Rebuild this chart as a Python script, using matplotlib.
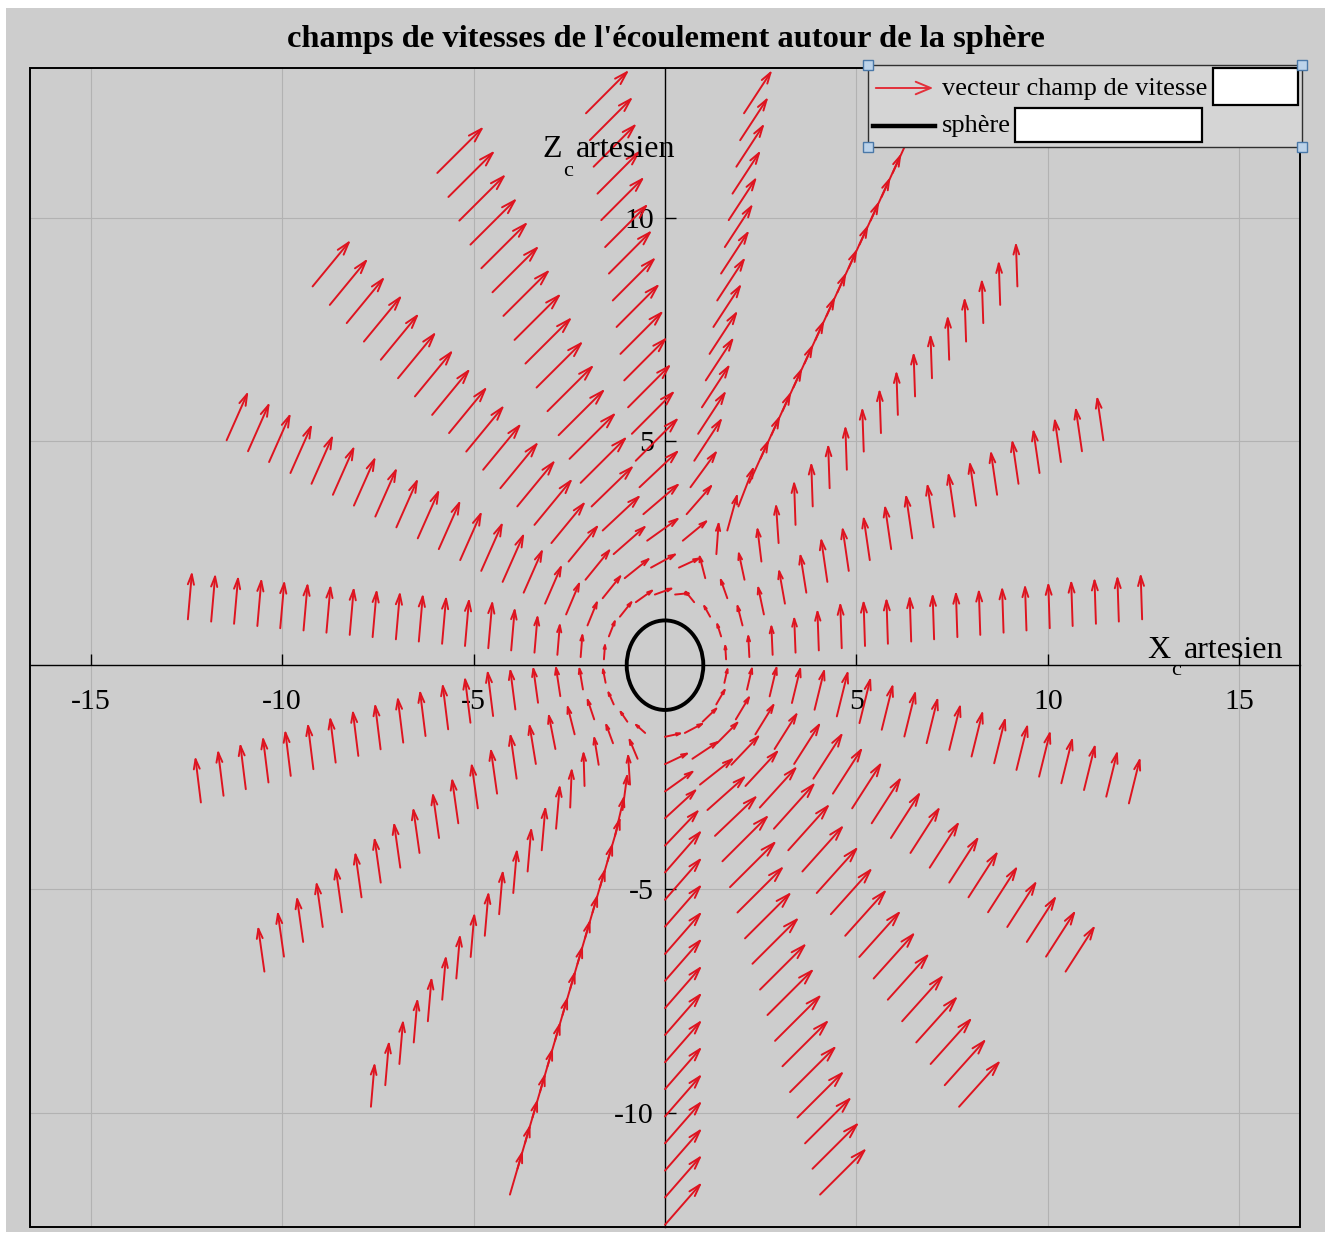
import numpy as np
import matplotlib
matplotlib.use("Agg")
import matplotlib.pyplot as plt
from matplotlib.patches import Ellipse, Rectangle, FancyArrowPatch
from matplotlib.lines import Line2D

plt.rcParams['font.family'] = ['Liberation Serif', 'DejaVu Serif']

# ---------------- data ----------------
# directions (deg, counter-clockwise from +X) of the sampling rays
ray_angles_deg = [270.0, 288.9, 307.9, 326.8, 345.7, 4.7, 23.7, 42.6, 61.6,
                  80.5, 99.5, 118.4, 137.4, 156.3, 175.3, 194.2, 213.2,
                  232.1, 251.1]
# radial positions of the sampling rings
ring_radii = [1.6, 2.21, 2.82, 3.42, 4.03, 4.63, 5.24, 5.84, 6.45, 7.05,
              7.66, 8.26, 8.87, 9.47, 10.08, 10.68, 11.29, 11.89, 12.5]
# velocity components away from the sphere, one pair per ray
far_vx = [0.97, 1.22, 1.09, 0.78, 0.30, -0.04, -0.17, -0.04, 0.52,
          0.74, 1.13, 1.22, 1.00, 0.57, 0.11, -0.15, -0.17, 0.10, 0.34]
far_vz = [0.95, 1.04, 1.04, 1.04, 1.04, 1.04, 1.00, 1.00, 0.98,
          0.97, 0.97, 1.04, 1.04, 1.10, 1.08, 1.04, 1.03, 1.00, 1.00]
# close to the sphere: lean of the arrows along its outline, and their length
ring_turn = [0.75, 0.50, 0.30, 0.15, 0.06]
ring_len = [0.36, 0.52, 0.68, 0.80, 0.90]

sphere_radius = 1.0
x_ticks = [-15, -10, -5, 5, 10, 15]
z_ticks = [-10, -5, 5, 10]
x_limits = (-16.58, 16.58)
z_limits = (-12.55, 13.34)

title_text = "champs de vitesses de l'écoulement autour de la sphère"
legend_labels = ["vecteur champ de vitesse", "sphère"]

# ---------------- figure ----------------
W, H, DPI = 1331, 1234, 100
BG = '#CDCDCD'
RED = '#DE1420'

fig = plt.figure(figsize=(W / DPI, H / DPI), dpi=DPI, facecolor='white')


def fx(px):
    return px / W


def fy(py):
    return 1 - py / H


# grey window area
fig.patches.append(Rectangle((fx(6), fy(1232)), fx(1325) - fx(6), fy(8) - fy(1232),
                             transform=fig.transFigure, facecolor=BG,
                             edgecolor='none', zorder=-10))

ax = fig.add_axes([fx(30), fy(1227), fx(1300) - fx(30), fy(68) - fy(1227)])
ax.set_zorder(1)
ax.set_facecolor(BG)
ax.set_xlim(*x_limits)
ax.set_ylim(*z_limits)

# axes crossing at the origin
for side in ('top', 'right'):
    ax.spines[side].set_visible(False)
ax.spines['left'].set_position(('data', 0))
ax.spines['bottom'].set_position(('data', 0))
for side in ('left', 'bottom'):
    ax.spines[side].set_linewidth(1.0)
    ax.spines[side].set_zorder(1.5)
ax.add_patch(Rectangle((0, 0), 1, 1, transform=ax.transAxes, fill=False,
                       edgecolor='black', linewidth=1.4, clip_on=False, zorder=5))

ax.set_xticks(x_ticks)
ax.set_yticks(z_ticks)
ax.set_xticklabels([f"{t:d}" for t in x_ticks])
ax.set_yticklabels([f"{t:d}" for t in z_ticks])
ax.tick_params(axis='x', direction='in', length=8, width=1.0, labelsize=21.5, pad=17)
ax.tick_params(axis='y', direction='in', length=8, width=1.0, labelsize=21.5, pad=8)
ax.grid(True, color='#B2B2B2', linewidth=0.8)
ax.set_axisbelow(True)

# velocity vectors
for j, phi_deg in enumerate(ray_angles_deg):
    phi = np.deg2rad(phi_deg)
    far = np.array([far_vx[j], far_vz[j]])
    speed = np.hypot(*far)
    d = far / speed
    tangent = np.array([-np.sin(phi), np.cos(phi)])
    if tangent @ d < 0:
        tangent = -tangent
    for i, r in enumerate(ring_radii):
        w = ring_turn[i] if i < len(ring_turn) else 0.0
        s = ring_len[i] if i < len(ring_len) else 1.0
        direction = (1 - w) * d + w * tangent
        direction /= np.hypot(*direction)
        vx, vz = direction * speed * s
        x0, z0 = r * np.cos(phi), r * np.sin(phi)
        # head proportional to the arrow length on screen
        p0 = ax.transData.transform((x0, z0))
        p1 = ax.transData.transform((x0 + vx, z0 + vz))
        length_pt = np.hypot(*(p1 - p0)) * 72 / DPI
        ax.annotate('', xy=(x0 + vx, z0 + vz), xytext=(x0, z0),
                    arrowprops=dict(arrowstyle='->,head_length=1.0,head_width=0.3',
                                    mutation_scale=0.21 * length_pt,
                                    color=RED, lw=1.4, shrinkA=0, shrinkB=0),
                    zorder=3)

# sphere outline
ax.add_patch(Ellipse((0, 0), 2 * sphere_radius, 2 * sphere_radius, fill=False,
                     edgecolor='black', linewidth=2.8, zorder=4))

# axis names written along the axes: capital, lowered "c", rest of the word
for pieces in ([("X", 12.59, 0.17, 23), ("c", 13.22, -0.23, 16), ("artesien", 13.56, 0.17, 23)],
               [("Z", -3.19, 11.36, 23), ("c", -2.66, 10.93, 16), ("artesien", -2.32, 11.36, 23)]):
    for s, xt, zt, fs in pieces:
        ax.text(xt, zt, s, fontsize=fs, ha='left', va='baseline', zorder=6)

fig.text(0.5, fy(39), title_text, fontsize=23.4, fontweight='bold',
         ha='center', va='center')

# legend box
fig.patches.append(Rectangle((fx(868), fy(147)), fx(1302) - fx(868), fy(65) - fy(147),
                             transform=fig.transFigure, facecolor='#D5D5D5',
                             edgecolor='#303030', linewidth=1.0, zorder=7))
fig.patches.append(FancyArrowPatch((fx(873), fy(88)), (fx(936), fy(88)),
                                   transform=fig.transFigure,
                                   arrowstyle='->,head_length=0.6,head_width=0.25',
                                   mutation_scale=18, color='#E3303A', lw=1.4,
                                   zorder=8))
fig.lines.append(Line2D([fx(873), fx(935)], [fy(126), fy(126)],
                        transform=fig.transFigure, color='black', lw=3.2, zorder=8))
fig.text(fx(942), fy(89), legend_labels[0], fontsize=19, ha='left', va='center',
         zorder=9)
fig.text(fx(942), fy(126), legend_labels[1], fontsize=19, ha='left', va='center',
         zorder=9)
for (x0, y0, x1, y1) in [(1213, 68, 1298, 105), (1015, 108, 1202, 142)]:
    fig.patches.append(Rectangle((fx(x0), fy(y1)), fx(x1) - fx(x0), fy(y0) - fy(y1),
                                 transform=fig.transFigure, facecolor='white',
                                 edgecolor='black', linewidth=1.6, zorder=9))
for (cx, cy) in [(868, 65), (1302, 65), (868, 147), (1302, 147)]:
    fig.patches.append(Rectangle((fx(cx - 5), fy(cy + 5)), fx(10), 10 / H,
                                 transform=fig.transFigure, facecolor='#BCD3EA',
                                 edgecolor='#4A78A8', linewidth=1.0, zorder=10))

fig.savefig('out.png', dpi=DPI, facecolor=fig.get_facecolor())
